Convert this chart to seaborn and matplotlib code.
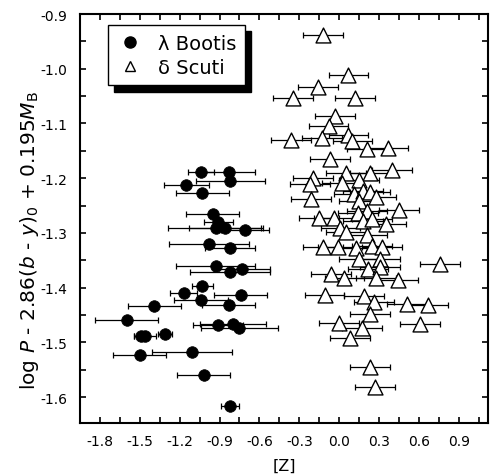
import matplotlib
matplotlib.use("Agg")
import matplotlib.pyplot as plt
import pandas as pd
import seaborn as sns
from matplotlib.lines import Line2D
from matplotlib.ticker import MultipleLocator, FormatStrFormatter

# lambda Bootis stars: metallicity, period-colour-luminosity value, error in [Z]
boo_z = [-1.04, -0.83, -1.15, -0.82, -1.03, -0.95, -0.91, -0.93, -0.86, -0.71,
         -0.98, -0.82, -0.93, -0.73, -0.82, -1.03, -1.17, -0.74, -1.04, -1.39,
         -0.83, -1.60, -0.91, -0.80, -0.75, -1.46, -1.49, -1.31, -1.11, -1.50,
         -1.02, -0.82]
boo_y = [-1.188, -1.189, -1.213, -1.206, -1.228, -1.265, -1.280, -1.292, -1.292, -1.294,
         -1.320, -1.328, -1.360, -1.366, -1.371, -1.397, -1.410, -1.414, -1.423, -1.433,
         -1.432, -1.459, -1.469, -1.467, -1.474, -1.488, -1.489, -1.484, -1.517, -1.523,
         -1.559, -1.616]
boo_err = [0.10, 0.20, 0.17, 0.26, 0.20, 0.20, 0.11, 0.36, 0.27, 0.18,
           0.30, 0.19, 0.30, 0.21, 0.30, 0.08, 0.10, 0.20, 0.20, 0.20,
           0.20, 0.24, 0.19, 0.25, 0.29, 0.08, 0.05, 0.05, 0.30, 0.20,
           0.20, 0.07]

# delta Scuti stars
sct_z = [-0.12, 0.07, -0.16, -0.35, 0.12, -0.03, -0.08, -0.36, -0.13, 0.07,
         0.10, 0.21, 0.37, -0.07, 0.05, 0.23, 0.40, -0.20, -0.22, 0.02,
         0.15, -0.21, 0.11, 0.18, 0.23, 0.28, 0.15, 0.45, 0.21, 0.14,
         -0.15, -0.04, 0.18, 0.25, 0.35, 0.01, 0.05, 0.21, -0.12, -0.01,
         0.13, 0.25, 0.32, 0.15, 0.31, 0.76, 0.22, 0.31, -0.06, 0.04,
         0.28, 0.44, -0.11, 0.19, 0.26, 0.51, 0.67, 0.23, 0.00, 0.17,
         0.61, 0.08, 0.23, 0.27]
sct_y = [-0.938, -1.012, -1.034, -1.054, -1.054, -1.087, -1.105, -1.130, -1.127, -1.121,
         -1.133, -1.146, -1.144, -1.165, -1.191, -1.191, -1.185, -1.200, -1.210, -1.208,
         -1.203, -1.238, -1.229, -1.223, -1.226, -1.235, -1.241, -1.258, -1.260, -1.263,
         -1.273, -1.273, -1.278, -1.275, -1.284, -1.292, -1.298, -1.304, -1.325, -1.325,
         -1.328, -1.324, -1.325, -1.347, -1.348, -1.357, -1.366, -1.363, -1.375, -1.383,
         -1.383, -1.386, -1.414, -1.416, -1.427, -1.430, -1.432, -1.448, -1.465, -1.473,
         -1.467, -1.493, -1.546, -1.581]
sct_err = [0.15, 0.15, 0.15, 0.15, 0.15, 0.15, 0.15, 0.15, 0.15, 0.15,
           0.15, 0.15, 0.15, 0.15, 0.15, 0.15, 0.15, 0.15, 0.15, 0.15,
           0.15, 0.15, 0.15, 0.15, 0.15, 0.15, 0.15, 0.15, 0.15, 0.15,
           0.15, 0.15, 0.15, 0.15, 0.15, 0.15, 0.15, 0.15, 0.15, 0.15,
           0.15, 0.15, 0.15, 0.15, 0.15, 0.15, 0.15, 0.15, 0.15, 0.15,
           0.15, 0.15, 0.15, 0.15, 0.15, 0.15, 0.15, 0.15, 0.15, 0.15,
           0.15, 0.15, 0.15, 0.15]

boo = pd.DataFrame({"z": boo_z, "y": boo_y, "err": boo_err})
sct = pd.DataFrame({"z": sct_z, "y": sct_y, "err": sct_err})

sns.set_style("ticks")
plt.rcParams["font.family"] = ["DejaVu Sans"]
plt.rcParams["mathtext.fontset"] = "dejavusans"
plt.rcParams["axes.unicode_minus"] = False
for key in ["text.color", "axes.labelcolor", "xtick.color", "ytick.color", "axes.edgecolor"]:
    plt.rcParams[key] = "black"

fig = plt.figure(figsize=(4.91, 4.77), dpi=100)
ax = fig.add_axes([80 / 491, 1 - 424 / 477, 408 / 491, 409 / 477])

# error bars first, markers on top
ax.errorbar(sct.z, sct.y, xerr=sct.err, fmt="none", ecolor="black",
            elinewidth=0.9, capsize=2.5, capthick=0.9, zorder=1)
sns.scatterplot(data=sct, x="z", y="y", marker="^", s=115, color="white",
                edgecolor="black", linewidth=1.0, ax=ax, zorder=2)

ax.errorbar(boo.z, boo.y, xerr=boo.err, fmt="none", ecolor="black",
            elinewidth=0.9, capsize=2.5, capthick=0.9, zorder=3)
sns.scatterplot(data=boo, x="z", y="y", marker="o", s=70, color="black",
                edgecolor="black", linewidth=0.5, ax=ax, zorder=4)

ax.set_xlim(-1.95, 1.12)
ax.set_ylim(-1.6475, -0.9)
ax.xaxis.set_major_locator(MultipleLocator(0.3))
ax.xaxis.set_minor_locator(MultipleLocator(0.15))
ax.yaxis.set_major_locator(MultipleLocator(0.1))
ax.yaxis.set_minor_locator(MultipleLocator(0.05))
ax.xaxis.set_major_formatter(FormatStrFormatter("%.1f"))
ax.yaxis.set_major_formatter(FormatStrFormatter("%.1f"))
ax.tick_params(which="both", direction="in", top=True, right=True,
               length=4, width=1.2, labelsize=10)
ax.tick_params(axis="x", pad=8)
ax.tick_params(axis="y", pad=9)
for sp in ax.spines.values():
    sp.set_linewidth(1.5)

ax.set_xlabel("[Z]", fontsize=11.5, labelpad=7)
ax.set_ylabel(r"log $\it{P}$ - 2.86($\it{b}$ - $\it{y}$)$_0$ + 0.195$\it{M}_\mathrm{B}$",
              fontsize=14.5)
ax.yaxis.set_label_coords(-0.095, 0.45)

handles = [
    Line2D([], [], marker="o", color="black", linestyle="none", markersize=8),
    Line2D([], [], marker="^", markerfacecolor="white", markeredgecolor="black",
           linestyle="none", markersize=7),
]
leg = ax.legend(handles, ["\u03bb Bootis", "\u03b4 Scuti"], loc="upper left",
                bbox_to_anchor=(0.069, 0.973), borderaxespad=0, fontsize=14,
                frameon=True, fancybox=False, framealpha=1, edgecolor="black",
                handlelength=1.3, handletextpad=0.8, borderpad=0.45,
                labelspacing=0.25,
                shadow={"ox": 4.5, "oy": -4.5, "color": "black", "alpha": 1})
leg.get_frame().set_linewidth(1.0)

fig.savefig("out.png", dpi=100)
